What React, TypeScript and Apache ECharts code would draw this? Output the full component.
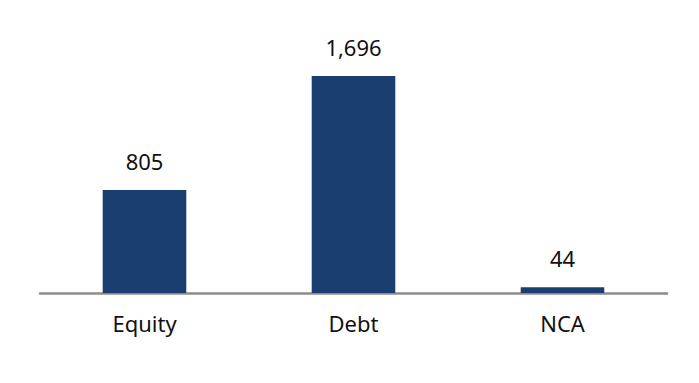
import React, { useEffect, useRef } from "react";
import * as echarts from "echarts";

const categories = ["Equity", "Debt", "NCA"];
const values = [805, 1696, 44];

export default function App() {
  const ref = useRef<HTMLDivElement>(null);
  useEffect(() => {
    const chart = echarts.init(ref.current!, null, { renderer: "svg" });
    chart.setOption({
      animation: false,
      backgroundColor: "#ffffff",
      grid: { left: 40, right: 32, top: 37, bottom: 90 },
      xAxis: {
        type: "category",
        data: categories,
        axisLine: { lineStyle: { color: "#8c8c8c", width: 2.5 } },
        axisTick: { show: false },
        axisLabel: {
          color: "#111111",
          fontSize: 22,
          fontFamily: "Noto Sans",
          margin: 19,
        },
      },
      yAxis: {
        type: "value",
        min: 0,
        max: 2000,
        show: false,
        splitLine: { show: false },
      },
      series: [
        {
          type: "bar",
          data: values,
          barWidth: "40%",
          itemStyle: { color: "#1b3e70" },
          label: {
            show: true,
            position: "top",
            distance: 18,
            color: "#111111",
            fontSize: 22,
            fontFamily: "Noto Sans",
            formatter: (p: any) => Number(p.value).toLocaleString("en-US"),
          },
        },
      ],
    });
    return () => chart.dispose();
  }, []);
  return <div ref={ref} style={{ width: 699, height: 383, position: "absolute", left: 0, top: 0 }} />;
}
